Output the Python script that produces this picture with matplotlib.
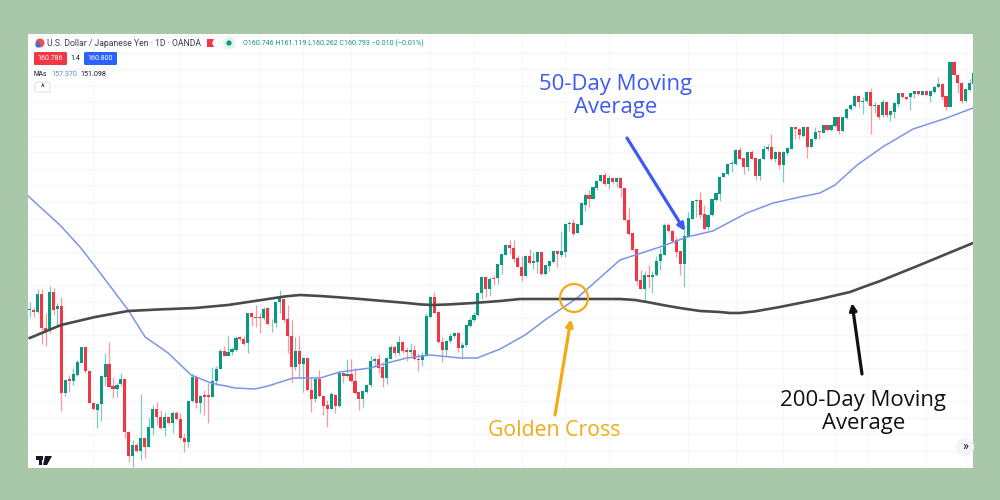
#!/usr/bin/env python
import matplotlib
matplotlib.use("Agg")
import matplotlib.pyplot as plt
import numpy as np
from matplotlib.patches import Circle, FancyBboxPatch, Rectangle, Polygon

opens = [
148.0,148.0,147.9,148.8,147.08,147.0,148.9,148.03,148.2,143.83,
144.53,144.47,144.77,145.37,146.17,144.97,143.37,143.0,143.3,144.67,
145.3,144.2,144.03,144.3,144.57,141.9,140.7,141.27,140.97,141.58,
141.17,142.1,143.03,142.67,142.1,142.67,142.33,142.87,142.57,141.6,
141.4,143.43,144.67,143.33,143.77,143.73,143.67,144.47,145.07,145.95,
145.72,145.9,146.0,146.63,146.53,146.33,147.87,147.67,147.63,147.6,
148.08,147.33,147.33,148.38,148.55,147.53,146.7,145.17,145.97,145.28,
145.6,144.0,143.53,144.53,143.7,143.23,143.07,143.77,143.2,144.87,
144.7,144.8,144.47,143.9,143.55,143.9,144.25,145.47,145.53,145.13,
144.6,145.57,146.17,145.83,146.4,146.0,145.88,146.0,145.57,145.5,
145.73,147.67,148.67,147.9,146.4,146.0,146.43,146.7,146.83,146.1,
146.23,147.2,147.5,147.73,148.83,149.67,149.07,149.6,149.58,150.25,
150.77,151.25,151.1,150.6,150.17,149.7,150.7,150.33,150.42,150.9,
149.8,150.2,150.4,150.93,150.77,150.9,152.3,152.37,151.87,152.27,
153.27,153.77,153.57,154.08,154.43,154.73,154.3,154.6,154.4,154.6,
154.1,152.5,151.83,151.03,149.5,149.07,149.73,149.67,149.73,150.43,
150.77,152.27,151.97,151.5,150.93,150.3,151.67,152.57,153.47,153.5,
152.78,152.17,152.75,153.5,153.8,154.67,154.8,155.3,155.3,156.0,
155.58,155.17,155.9,155.58,154.7,155.53,156.03,156.13,155.57,155.9,
155.27,155.87,156.07,157.13,157.07,156.7,157.17,156.17,156.53,156.95,
156.87,157.23,157.0,157.2,157.63,156.95,157.6,158.03,158.2,158.7,
158.4,158.43,158.9,158.2,158.27,157.73,158.4,157.73,157.9,158.3,
158.83,158.67,158.63,158.8,158.93,158.77,158.93,158.7,158.9,159.13,
159.3,158.7,158.17,160.4,159.77,159.37,158.43,159.0,159.3,
]
highs = [
148.42,148.17,149.03,149.03,147.83,149.22,149.08,148.37,148.67,144.5,
144.75,145.08,145.5,146.17,146.17,144.97,143.42,143.33,144.75,145.83,
146.42,144.67,144.37,144.83,144.57,141.95,141.5,141.33,143.78,141.58,
142.67,143.25,143.42,143.0,142.92,142.7,142.97,142.93,142.83,141.83,
143.47,144.87,144.73,143.75,144.0,144.33,145.17,145.2,146.07,146.2,
146.7,146.13,146.7,146.7,146.7,147.87,147.92,148.25,147.83,148.13,
148.13,147.55,148.42,149.0,148.58,148.25,147.5,146.67,146.7,145.63,
145.6,144.67,144.58,145.0,143.75,143.5,143.92,143.8,144.87,144.9,
145.53,145.53,145.08,143.93,143.97,144.3,145.7,145.63,145.8,145.4,
145.63,146.25,146.25,146.7,146.47,146.13,146.37,146.25,145.83,145.92,
147.87,148.7,148.92,147.93,146.67,146.5,146.83,146.92,146.92,146.42,
147.25,147.63,147.92,148.87,149.7,149.7,149.67,149.75,150.3,150.8,
151.3,151.5,151.5,150.75,150.7,150.75,151.07,150.92,150.93,150.9,
150.27,150.47,150.97,150.97,151.97,152.33,152.43,152.53,152.33,153.37,
153.83,154.0,154.17,154.5,154.77,154.9,154.77,154.6,154.63,154.63,
154.13,153.17,151.87,151.07,150.0,149.93,150.27,149.97,150.7,151.1,
152.37,152.33,152.0,151.67,150.93,152.25,152.92,153.5,153.53,153.92,
153.25,152.8,153.57,153.87,154.7,154.87,155.33,155.5,156.03,156.13,
155.62,155.97,156.0,155.62,155.6,156.25,156.3,156.8,155.93,155.93,
155.93,156.13,157.17,157.17,157.1,157.2,157.2,156.6,157.13,156.97,
157.27,157.27,157.27,157.67,157.67,157.67,158.1,158.3,158.73,158.73,
158.67,158.93,159.1,158.42,158.3,158.57,158.43,157.97,158.4,158.87,
158.87,158.7,158.87,158.97,158.97,158.97,158.97,158.97,159.2,159.63,
159.33,158.73,160.43,160.43,159.8,159.4,159.07,159.57,160.0,
]
lows = [
147.67,147.67,147.83,146.3,146.2,146.83,147.75,147.25,142.97,143.7,
143.92,144.25,144.7,145.33,144.87,143.33,143.0,142.12,142.47,144.25,
144.17,143.58,143.67,144.2,141.58,140.42,140.17,140.88,140.5,140.58,
141.13,141.75,142.25,142.07,141.7,142.3,141.83,142.5,141.57,140.9,
141.17,143.42,143.08,142.87,142.75,142.33,143.63,144.25,145.03,145.7,
145.7,145.75,145.97,146.47,146.25,145.83,147.2,147.17,146.83,147.5,
147.25,146.92,147.17,147.83,147.42,145.87,144.42,145.0,144.58,143.92,
143.97,142.92,143.42,143.67,142.75,142.17,143.03,142.83,143.17,144.33,
144.63,144.42,143.8,143.0,143.13,143.83,144.17,145.17,144.83,144.17,
144.3,145.53,145.7,145.73,145.87,145.47,145.75,145.5,144.97,145.2,
145.7,147.63,147.83,146.37,145.42,145.7,146.37,146.58,145.92,145.63,
146.13,147.17,147.47,147.7,148.57,148.63,148.7,149.27,149.3,149.8,
150.73,150.8,150.42,150.13,149.47,149.67,150.3,150.03,149.83,149.77,
149.75,149.97,150.37,150.17,150.67,150.63,151.97,151.73,151.83,152.25,
152.97,153.17,153.53,154.0,154.4,154.27,154.03,154.3,154.17,153.67,
152.47,151.77,150.97,149.23,149.03,148.47,149.1,148.87,149.7,150.0,
150.73,151.9,151.37,150.67,149.75,149.13,151.63,152.53,152.67,152.58,
152.03,152.0,152.72,153.47,153.47,154.63,154.77,154.92,155.25,155.53,
154.8,154.97,155.53,154.5,154.5,155.5,155.97,155.5,155.42,155.03,
154.42,155.73,156.03,156.53,156.53,156.63,155.62,156.13,156.5,156.53,
156.83,156.97,156.97,157.17,156.8,156.92,157.57,158.0,158.13,158.17,
157.8,158.37,156.8,157.87,157.57,157.67,157.67,157.47,157.58,158.17,
158.58,158.5,158.0,158.58,158.73,158.73,158.7,158.42,158.87,159.1,
158.5,158.0,158.13,159.73,158.87,158.33,158.4,158.97,159.2,
]
closes = [
148.03,147.92,148.8,147.08,146.97,148.9,148.0,148.2,143.87,144.5,
144.43,144.8,145.4,146.17,144.97,143.37,143.03,143.3,144.7,145.3,
144.17,144.03,144.27,144.57,141.9,140.7,141.27,140.93,141.58,141.17,
142.13,143.07,142.63,142.1,142.67,142.33,142.83,142.57,141.58,141.4,
143.47,144.67,143.37,143.7,143.67,143.67,144.47,145.07,145.97,145.72,
145.92,146.03,146.6,146.53,146.3,147.87,147.67,147.62,147.6,148.07,
147.28,147.37,148.38,148.63,147.5,146.7,145.13,145.97,145.28,145.6,
144.0,143.53,144.53,143.7,143.2,143.07,143.8,143.2,144.83,144.7,
144.8,144.47,143.87,143.53,143.93,144.25,145.47,145.57,145.1,144.6,
145.6,146.17,145.83,146.4,145.97,145.88,146.0,145.53,145.5,145.75,
147.7,148.67,147.87,146.38,146.0,146.47,146.7,146.83,146.08,146.27,
147.23,147.5,147.73,148.83,149.67,149.07,149.57,149.57,150.28,150.8,
151.27,151.1,150.53,150.17,149.7,150.7,150.33,150.43,150.9,149.8,
150.23,150.43,150.93,150.8,150.93,152.3,152.37,151.8,152.3,153.33,
153.77,153.57,154.13,154.47,154.73,154.3,154.6,154.4,154.6,154.1,
152.5,151.8,151.0,149.47,149.07,149.73,149.67,149.77,150.47,150.8,
152.27,151.93,151.47,150.9,150.3,151.7,152.58,153.47,153.5,152.75,
152.07,152.77,153.53,153.83,154.67,154.83,155.3,155.37,156.0,155.57,
155.17,155.9,155.57,154.7,155.57,156.07,156.13,155.57,155.9,155.27,
155.9,156.1,157.13,157.07,156.73,157.17,156.17,156.57,156.9,156.88,
157.23,157.0,157.23,157.63,156.93,157.63,158.07,158.23,158.7,158.4,
158.47,158.9,158.2,158.27,157.67,158.4,157.73,157.93,158.37,158.83,
158.63,158.57,158.83,158.93,158.8,158.93,158.73,158.93,159.17,159.3,
158.67,158.17,160.4,159.77,159.37,158.43,159.03,159.33,159.83,
]

# moving averages, read at points along the line (bar number, price)
ma50_bar = [-0.4,7.6,12.7,17.2,24.8,29.1,34.9,40.7,45.7,51.8,56.8,60.1,66.4,73.2,78.2,85.8,90.1,95.1,100.9,
            108.5,112.8,118.6,124.9,129.9,138,148.8,158.9,165.7,172.2,180.8,187.4,194.2,199.2,203,208.6,215,222.7,231.2,237.8]
ma50 = [153.7,152.25,151.15,150.0,148.0,146.65,145.85,144.75,144.35,144.1,144.05,144.2,144.6,144.6,144.9,145.1,145.35,145.6,145.75,
        145.6,145.6,146.05,146.75,147.5,148.6,150.5,151.15,151.65,151.95,152.85,153.35,153.65,153.85,154.25,155.25,156.15,157.05,157.6,158.1]
ma200_bar = [0,7.9,16.5,24.8,32.9,41.7,50,60.1,64.4,68.1,73.2,78.2,83.3,95.1,98.4,101.7,105.9,111.8,118.6,123.6,138.7,148.8,152.6,155.6,160.1,163.9,
             169,174,176.5,179,182.8,189.1,199.2,206.8,210.6,214.4,219.4,224.4,237.8]
ma200 = [146.6,147.25,147.65,147.95,148.03,148.1,148.25,148.55,148.68,148.75,148.7,148.63,148.55,148.35,148.28,148.25,148.28,148.35,148.45,148.55,148.55,148.55,148.5,148.4,148.23,148.1,
         147.95,147.9,147.85,147.85,147.93,148.15,148.55,148.9,149.18,149.45,149.85,150.25,151.35]

grid_bars = [16,38,58,69,81,101,112,124,135,146,166,178,190,203,211,226,236]
grid_prices = [140.95 + 0.83 * k for k in range(26)]

UP = "#089981"
DOWN = "#f23645"

fig = plt.figure(figsize=(10, 5), dpi=100, facecolor="#a9c8a9")
plt.rcParams["font.family"] = ["Roboto", "DejaVu Sans"]
ax = fig.add_axes([0.028, 0.064, 0.945, 0.868], facecolor="white")
ax.set_xlim(-0.43, 237.8)
ax.set_ylim(140.1, 161.8)
ax.set_xticks(grid_bars)
ax.set_yticks(grid_prices)
ax.grid(True, color="#f5f7fb", lw=0.9)
ax.set_axisbelow(True)
ax.tick_params(length=0, labelbottom=False, labelleft=False)
for s in ax.spines.values():
    s.set_visible(False)

bars = np.arange(len(closes))
o = np.array(opens); c = np.array(closes)
colors = [UP if c[i] >= o[i] else DOWN for i in bars]
ax.vlines(bars, lows, highs, colors=colors, lw=0.9, alpha=0.5, zorder=2)
ax.bar(bars, np.maximum(np.abs(c - o), 0.04), bottom=np.minimum(o, c), width=0.78, color=colors, lw=0, zorder=3)

ax.plot(ma50_bar, ma50, color="#7c95e6", lw=1.1, zorder=4)
ax.plot(ma200_bar, ma200, color="#4a4a4a", lw=1.9, zorder=4)

# everything below sits in picture pixels, y measured from the top
H = 500.0
def P(x, y):
    return (x / 1000.0, 1 - y / H)

def label(x, y, s, size=6.3, color="#131722", ha="left", **kw):
    fig.text(x / 1000.0, 1 - y / H, s, fontsize=size, color=color, ha=ha, va="center", zorder=10, **kw)

def box(x0, y0, x1, y1, fc, ec="none"):
    fig.add_artist(FancyBboxPatch(P(x0, y1), (x1 - x0) / 1000.0, (y1 - y0) / H, boxstyle="round,pad=0,rounding_size=0.002",
                                  fc=fc, ec=ec, lw=0.6, transform=fig.transFigure, zorder=9))

# header
fig.add_artist(Circle((40, 500 - 43), 4.5, fc="#e8505b", ec="none", transform=None, zorder=9))
fig.add_artist(Circle((38, 500 - 45), 2.6, fc="#3f6fd8", ec="none", transform=None, zorder=10))
label(47, 43.5, "U.S. Dollar / Japanese Yen · 1D · OANDA", size=6.2, color="#3a3e4a")
fig.add_artist(Polygon([P(207, 39), P(214, 39), P(212, 43), P(214, 47), P(207, 47)], closed=True, fc="#f23645", ec="none",
                       transform=fig.transFigure, zorder=9))
fig.add_artist(Circle((229, 500 - 43), 6, fc="#dff3ee", ec="none", transform=None, zorder=9))
fig.add_artist(Circle((229, 500 - 43), 2.6, fc=UP, ec="none", transform=None, zorder=10))
label(243, 43.5, "O160.746 H161.119 L160.262 C160.793 −0.010 (−0.01%)", size=5.15, color=UP)
box(34, 52, 67, 65, DOWN)
label(50.5, 58.5, "160.786", size=5, color="white", ha="center")
label(75.5, 58.5, "1.4", size=5, ha="center")
box(84, 52, 117, 65, "#2962ff")
label(100.5, 58.5, "160.800", size=5, color="white", ha="center")
label(34, 74, "MAs", size=4.8)
label(51, 74, "157.370", size=5.1, color="#5b7fd6")
label(80, 74, "151.098", size=5.1)
box(35, 82, 50, 92, "white", ec="#d8dbe3")
label(42.5, 87.5, "^", size=6.5, ha="center")

# TradingView mark and scroll button
fig.add_artist(Rectangle(P(36, 460), 0.0065, 4.0 / H, fc="#131722", ec="none", transform=fig.transFigure, zorder=9))
fig.add_artist(Rectangle(P(39, 465), 0.003, 9.0 / H, fc="#131722", ec="none", transform=fig.transFigure, zorder=9))
fig.add_artist(Polygon([P(45, 456), P(52, 456), P(47, 465), P(43, 465)], closed=True, fc="#131722", ec="none",
                       transform=fig.transFigure, zorder=9))
fig.add_artist(Circle((965, 500 - 447), 9, fc="#f4f5f8", ec="none", transform=None, zorder=9))
label(965, 446.5, "»", size=9, ha="center")

# callouts
OS = ["Open Sans", "DejaVu Sans"]
label(615.5, 96, "50-Day Moving\nAverage", size=15.9, color="#3d5af1", ha="center", linespacing=1.13, family=OS)
label(554, 430, "Golden Cross", size=15.3, color="#f2ab14", ha="center", family=OS)
label(863.5, 412, "200-Day Moving\nAverage", size=15.9, color="#111111", ha="center", linespacing=1.13, family=OS)

fig.add_artist(Circle((574, 500 - 298), 14, fc="none", ec="#f2ab14", lw=1.6, transform=None, zorder=9))
for start, end, col in [((627, 138), (685, 231), "#3d5af1"), ((555, 415), (571, 319), "#f2ab14"), ((862, 374), (852, 303), "#111111")]:
    ax.annotate("", xy=(end[0], 500 - end[1]), xytext=(start[0], 500 - start[1]),
                xycoords="figure pixels", textcoords="figure pixels",
                arrowprops=dict(arrowstyle="-|>,head_length=0.4,head_width=0.2", color=col, lw=2.3, shrinkA=0, shrinkB=0),
                zorder=9)

fig.savefig("out.png", dpi=100, facecolor=fig.get_facecolor())
